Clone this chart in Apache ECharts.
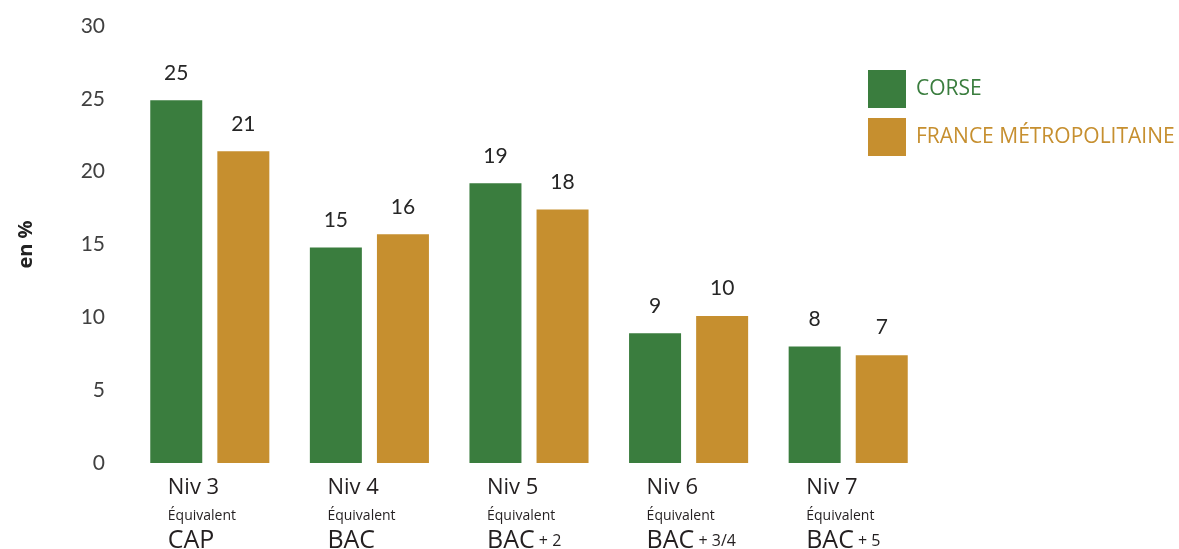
<!DOCTYPE html>
<html>
<head>
<meta charset="utf-8">
<script src="https://cdn.jsdelivr.net/npm/echarts@6/dist/echarts.min.js"></script>
<style>
html,body{margin:0;padding:0;background:#fff;}
#main_chart{width:1179px;height:549px;}
</style>
</head>
<body>
<div id="main_chart"></div>
<script>
// niveaux de diplome
var niveaux = ['Niv 3', 'Niv 4', 'Niv 5', 'Niv 6', 'Niv 7'];
var diplomes = ['CAP', 'BAC', 'BAC', 'BAC', 'BAC'];
var suffixes = ['', '', '+ 2', '+ 3/4', '+ 5'];
// valeurs en %
var corse = [24.9, 14.8, 19.2, 8.9, 8.0];
var france = [21.4, 15.7, 17.4, 10.1, 7.4];
// etiquettes affichees
var corseLabels = ['25', '15', '19', '9', '8'];
var franceLabels = ['21', '16', '18', '10', '7'];
var yTicks = [0, 30, 5];

var vert = '#3a7d3e';
var or = '#c68f2f';

var categories = [];
for (var i = 0; i < niveaux.length; i++) {
    categories.push(i + '');
}

var myChart = echarts.init(document.getElementById('main_chart'));

var option = {
    animation: false,
    textStyle: { fontFamily: 'Open Sans' },
    grid: {
        left: 130,
        right: 251,
        top: 26,
        bottom: 86,
        containLabel: false,
        outerBoundsMode: 'none'
    },
    legend: {
        orient: 'vertical',
        left: 868,
        top: 70,
        padding: 0,
        icon: 'rect',
        itemWidth: 38,
        itemHeight: 38,
        itemGap: 10,
        selectedMode: false,
        textStyle: { fontSize: 21, fontFamily: 'Open Sans', padding: [3, 0, 0, 5] },
        data: [
            { name: 'CORSE', textStyle: { color: vert } },
            { name: 'FRANCE MÉTROPOLITAINE', textStyle: { color: or } }
        ]
    },
    xAxis: {
        type: 'category',
        data: categories,
        axisLine: { show: false },
        axisTick: { show: false },
        axisLabel: {
            interval: 0,
            margin: 10,
            width: 84,
            align: 'center',
            formatter: function (v) {
                var i = parseInt(v);
                var last = '{big|' + diplomes[i] + '}';
                if (suffixes[i]) last += '{small| ' + suffixes[i] + '}';
                return '{niv|' + niveaux[i] + '}\n{eq|Équivalent}\n' + last;
            },
            rich: {
                niv: { fontSize: 22, color: '#231f20', fontFamily: 'Open Sans', lineHeight: 30, align: 'left', width: 84 },
                eq: { fontSize: 14, color: '#231f20', fontFamily: 'Open Sans', lineHeight: 26, align: 'left', width: 84 },
                big: { fontSize: 25, color: '#231f20', fontFamily: 'Open Sans', lineHeight: 24, align: 'left' },
                small: { fontSize: 16, color: '#231f20', fontFamily: 'Open Sans', lineHeight: 24, align: 'left' }
            }
        }
    },
    yAxis: {
        type: 'value',
        min: yTicks[0],
        max: yTicks[1],
        interval: yTicks[2],
        name: 'en %',
        nameLocation: 'middle',
        nameRotate: 90,
        nameGap: 94,
        nameTextStyle: { fontSize: 20, fontWeight: 'bold', color: '#222', fontFamily: 'Open Sans' },
        axisLine: { show: false },
        axisTick: { show: false },
        splitLine: { show: false },
        axisLabel: { margin: 25, fontSize: 21, color: '#404040', fontFamily: 'Lato' }
    },
    series: [
        {
            name: 'CORSE',
            type: 'bar',
            data: corse,
            barWidth: 52,
            barGap: '29%',
            itemStyle: { color: vert },
            label: {
                show: true,
                position: 'top',
                distance: 17,
                fontSize: 21,
                color: '#262626',
                fontFamily: 'Lato',
                formatter: function (p) { return corseLabels[p.dataIndex]; }
            }
        },
        {
            name: 'FRANCE MÉTROPOLITAINE',
            type: 'bar',
            data: france,
            barWidth: 52,
            itemStyle: { color: or },
            label: {
                show: true,
                position: 'top',
                distance: 17,
                fontSize: 21,
                color: '#262626',
                fontFamily: 'Lato',
                formatter: function (p) { return franceLabels[p.dataIndex]; }
            }
        }
    ]
};

myChart.setOption(option);
</script>
</body>
</html>
